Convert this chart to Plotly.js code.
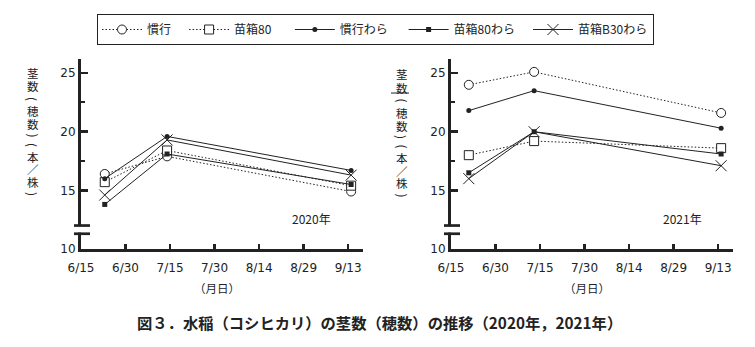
<!DOCTYPE html>
<html><head><meta charset="utf-8">
<script src="https://cdn.plot.ly/plotly-3.0.1.min.js"></script>
<style>html,body{margin:0;padding:0;background:#fff}#c{width:755px;height:347px}</style>
</head><body><div id="c"></div>
<script>
// ---- data ----
const series = ["慣行", "苗箱80", "慣行わら", "苗箱80わら", "苗箱B30わら"];
const dates2020 = ["2020-06-23", "2020-07-14", "2020-09-14"];
const dates2021 = ["2021-06-21", "2021-07-13", "2021-09-14"];
const v2020_kanko = [16.4, 17.9, 14.9];
const v2020_nae80 = [15.7, 18.4, 15.4];
const v2020_kankoWara = [16.0, 19.6, 16.7];
const v2020_nae80Wara = [13.8, 18.1, 15.5];
const v2020_b30Wara = [14.6, 19.3, 16.3];
const v2021_kanko = [24.0, 25.1, 21.6];
const v2021_nae80 = [18.0, 19.2, 18.6];
const v2021_kankoWara = [21.8, 23.5, 20.3];
const v2021_nae80Wara = [16.5, 20.0, 18.1];
const v2021_b30Wara = [16.0, 20.0, 17.1];
const tickLabels = ["6/15", "6/30", "7/15", "7/30", "8/14", "8/29", "9/13"];
const tickDates2020 = ["2020-06-15","2020-06-30","2020-07-15","2020-07-30","2020-08-14","2020-08-29","2020-09-13"];
const tickDates2021 = ["2021-06-15","2021-06-30","2021-07-15","2021-07-30","2021-08-14","2021-08-29","2021-09-13"];
const yTicks = [10, 15, 20, 25];
const yMinorTicks = [17.5, 22.5];
const yearLabels = ["2020年", "2021年"];
const yTitleChars = ["茎","数","(","穂","数",")","(","本","／","株",")"];
const xTitle = "（月日）";
const caption = "図３．水稲（コシヒカリ）の茎数（穂数）の推移（2020年，2021年）";

// ---- styles ----
const W = 755, H = 347;
const px = x => x / W, py = y => 1 - y / H;
const INK = "#222";
const CJK = "Noto Sans CJK JP";
const DOT = "1.5px,2px";
const legendPad = [3, 5, 4, 3, 0];
const styles = [
  {line:{color:INK,width:1,dash:DOT}, marker:{symbol:"circle",size:9,color:"#fff",line:{color:INK,width:1}}},
  {line:{color:INK,width:1,dash:DOT}, marker:{symbol:"square",size:9,color:"#fff",line:{color:INK,width:1}}},
  {line:{color:INK,width:1}, marker:{symbol:"circle",size:5,color:INK}},
  {line:{color:INK,width:1}, marker:{symbol:"square",size:5,color:INK}},
  {line:{color:INK,width:1}, marker:{symbol:"x-thin",size:11,color:INK,line:{color:INK,width:1}}}
];
const d2020 = [v2020_kanko, v2020_nae80, v2020_kankoWara, v2020_nae80Wara, v2020_b30Wara];
const d2021 = [v2021_kanko, v2021_nae80, v2021_kankoWara, v2021_nae80Wara, v2021_b30Wara];

const traces = [];
series.forEach((name, i) => {
  traces.push(Object.assign({type:"scatter", mode:"lines+markers", name:name + "\u00A0".repeat(legendPad[i]),
    x:dates2020, y:d2020[i], xaxis:"x", yaxis:"y", legendgroup:name, cliponaxis:false},
    JSON.parse(JSON.stringify(styles[i]))));
});
series.forEach((name, i) => {
  traces.push(Object.assign({type:"scatter", mode:"lines+markers", name:name, x:dates2021, y:d2021[i],
    xaxis:"x2", yaxis:"y2", legendgroup:name, showlegend:false, cliponaxis:false}, JSON.parse(JSON.stringify(styles[i]))));
});

const tickFont = {family:"DejaVu Sans", size:12, color:INK};
function xAxis(dom, ticks, yr, anchor){
  return {domain:dom, anchor:anchor, type:"date", range:[yr+"-06-15", yr+"-09-18"],
    tickmode:"array", tickvals:ticks, ticktext:tickLabels, ticks:"inside", ticklen:5, tickwidth:2.5,
    tickcolor:INK, showline:true, linewidth:3, linecolor:INK, showgrid:false, zeroline:false,
    tickfont:tickFont, ticklabelstandoff:6, fixedrange:true};
}
function yAxis(anchor){
  return {domain:[py(249), py(59)], anchor:anchor, range:[10, 26.2], tickmode:"array", tickvals:yTicks,
    ticks:"inside", ticklen:7, tickwidth:2.5, tickcolor:INK, showline:true, linewidth:3, linecolor:INK,
    showgrid:false, zeroline:false, tickfont:tickFont,
    minor:{tickmode:"array", tickvals:yMinorTicks, ticks:"inside", ticklen:4, tickwidth:2, tickcolor:INK}};
}

const annotations = [];
const shapes = [];
const panels = [{axL:81, yx:33, yoff:0, yr:yearLabels[0], yrx:311, xtx:217},
                {axL:451, yx:402, yoff:1.5, yr:yearLabels[1], yrx:682, xtx:587}];
const charY = [72.5, 86, 99, 111, 124.5, 135.5, 145, 156.5, 169, 182, 194];
panels.forEach((p, k) => {
  yTitleChars.forEach((ch, j) => {
    const paren = (ch === "(" || ch === ")");
    const a = {xref:"paper", yref:"paper", x:px(p.yx), y:py(charY[j] + p.yoff), text:ch, showarrow:false,
      xanchor:"center", yanchor:"middle", textangle: paren ? 90 : 0,
      font:{family:CJK, size: paren ? 12 : 11.5, color:INK}};
    if (!paren) a.height = 12;
    annotations.push(a);
  });
  annotations.push({xref:"paper", yref:"paper", x:px(p.yrx), y:py(218), text:p.yr, showarrow:false,
    xanchor:"center", yanchor:"middle", font:{family:CJK, size:12, color:INK}});
  annotations.push({xref:"paper", yref:"paper", x:px(p.xtx), y:py(288), text:xTitle, showarrow:false,
    xanchor:"center", yanchor:"middle", font:{family:CJK, size:11.5, color:INK}});
  // axis break
  const yref = k === 0 ? "y" : "y2";
  shapes.push({type:"rect", xref:"paper", yref:yref, x0:px(p.axL-4), x1:px(p.axL+4), y0:11.4, y1:11.95,
    fillcolor:"#fff", line:{width:0}, layer:"above"});
  [12.0, 11.3].forEach(v => shapes.push({type:"line", xref:"paper", yref:yref, x0:px(p.axL-7), x1:px(p.axL+9),
    y0:v, y1:v, line:{color:INK, width:2.7}, layer:"above"}));
});
// underline in right y-title
shapes.push({type:"line", xref:"paper", yref:"paper", x0:px(391), x1:px(409), y0:py(93), y1:py(93),
  line:{color:INK, width:1}});
annotations.push({xref:"paper", yref:"paper", x:px(379), y:py(322), text:"<b>"+caption+"</b>", showarrow:false,
  xanchor:"center", yanchor:"middle", font:{family:CJK, size:15.3, color:INK}});

const layout = {
  width:W, height:H, margin:{l:0, r:0, t:0, b:0}, paper_bgcolor:"#fff", plot_bgcolor:"#fff",
  showlegend:true,
  legend:{orientation:"h", x:px(97), y:py(14), xanchor:"left", yanchor:"top", bordercolor:INK, borderwidth:1,
    font:{family:CJK, size:12, color:INK}, itemwidth:40, bgcolor:"#fff", itemclick:false},
  xaxis:xAxis([px(81), px(363)], tickDates2020, "2020", "y"),
  yaxis:yAxis("x"),
  xaxis2:xAxis([px(451), px(733)], tickDates2021, "2021", "y2"),
  yaxis2:yAxis("x2"),
  annotations:annotations, shapes:shapes
};
Plotly.newPlot("c", traces, layout, {staticPlot:true, displayModeBar:false});
</script></body></html>
